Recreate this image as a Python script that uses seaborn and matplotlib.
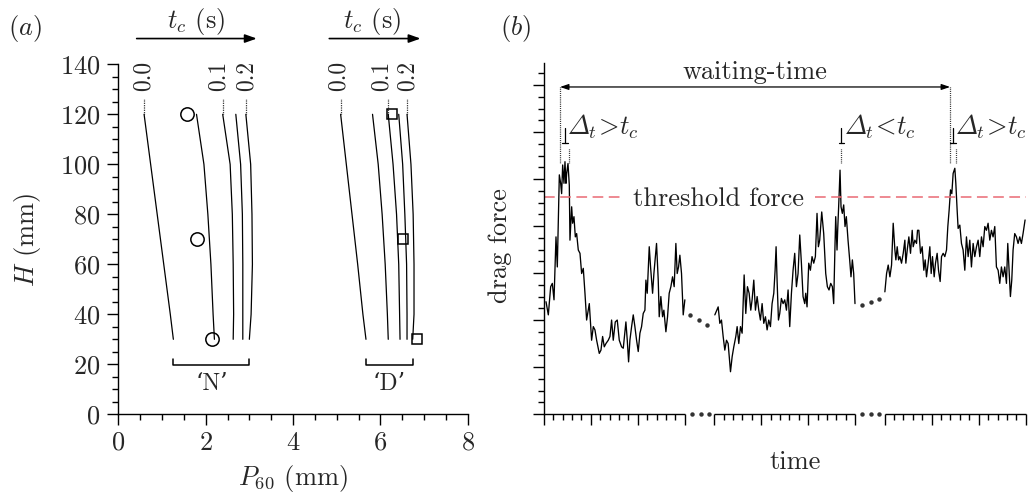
import numpy as np
import pandas as pd
import matplotlib
matplotlib.use('Agg')
import matplotlib.pyplot as plt
import seaborn as sns
from matplotlib.ticker import MultipleLocator, FixedLocator, NullFormatter

sns.set_style('ticks')
plt.rcParams['font.family'] = ['cmr10', 'DejaVu Serif']
plt.rcParams['mathtext.fontset'] = 'cm'
plt.rcParams['axes.formatter.use_mathtext'] = True
plt.rcParams['axes.unicode_minus'] = False

# ---------------- panel (a) data ----------------
H_levels = [120, 100, 80, 60, 40, 30]
curve_tc = ['0.0', '', '0.1', '', '0.2']
P60_N = [
    [0.59, 0.74, 0.89, 1.04, 1.19, 1.26],
    [1.79, 1.96, 2.05, 2.12, 2.17, 2.20],
    [2.39, 2.56, 2.61, 2.63, 2.64, 2.63],
    [2.69, 2.80, 2.84, 2.85, 2.85, 2.85],
    [2.92, 3.03, 3.06, 3.07, 3.04, 3.00],
]
P60_D = [
    [5.09, 5.22, 5.35, 5.48, 5.60, 5.67],
    [5.82, 5.95, 6.04, 6.11, 6.16, 6.18],
    [6.18, 6.29, 6.37, 6.42, 6.44, 6.45],
    [6.42, 6.51, 6.56, 6.60, 6.61, 6.61],
    [6.61, 6.70, 6.75, 6.77, 6.77, 6.74],
]
tc_label_x_N = [0.57, 2.30, 2.93]
tc_label_x_D = [5.04, 6.03, 6.62]
H_markers = [120, 70, 30]
P60_N_markers = [1.565, 1.79, 2.14]
P60_D_markers = [6.27, 6.52, 6.83]
group_names = ['\u2018N\u2019', '\u2018D\u2019']
group_label_x = [2.14, 6.20]

# ---------------- panel (b) data ----------------
seg_start = [0.0, 3.622, 7.245]
seg1_t = [0.049, 0.098, 0.148, 0.183, 0.219, 0.261, 0.289, 0.332, 0.360, 0.381,
          0.403, 0.431, 0.452, 0.473, 0.488, 0.516, 0.544, 0.558, 0.594, 0.615,
          0.643, 0.672, 0.700, 0.735, 0.771, 0.806, 0.841, 0.877, 0.912, 0.969,
          1.018, 1.054, 1.089, 1.125, 1.181, 1.217, 1.252, 1.287, 1.323, 1.372,
          1.408, 1.443, 1.478, 1.521, 1.563, 1.606, 1.655, 1.691, 1.747, 1.776,
          1.804, 1.832, 1.868, 1.903, 1.938, 1.974, 2.009, 2.045, 2.080, 2.115,
          2.151, 2.172, 2.200, 2.243, 2.271, 2.314, 2.342, 2.398, 2.434, 2.455,
          2.490, 2.526, 2.554, 2.597, 2.632, 2.667, 2.703, 2.738, 2.773, 2.809,
          2.837, 2.866, 2.894, 2.929, 2.965, 3.000]
seg1_f = [2.39, 2.11, 2.71, 2.78, 2.43, 3.77, 3.13, 5.09, 4.91, 4.69,
          5.30, 4.91, 5.37, 4.91, 5.12, 5.33, 4.87, 3.70, 4.41, 4.06,
          4.20, 3.77, 3.84, 3.49, 3.42, 2.99, 3.10, 2.57, 2.00, 2.35,
          1.57, 1.86, 1.79, 1.57, 1.29, 1.36, 1.65, 1.43, 1.50, 1.57,
          1.65, 2.00, 1.57, 1.96, 2.00, 1.57, 1.43, 1.40, 1.96, 1.57,
          1.11, 1.57, 1.86, 2.11, 1.86, 1.57, 1.33, 1.72, 1.86, 2.14,
          2.21, 2.85, 2.57, 3.56, 3.13, 2.57, 2.99, 3.63, 2.85, 2.07,
          2.50, 2.07, 2.21, 1.75, 2.07, 2.57, 2.71, 2.92, 2.71, 3.63,
          2.99, 3.13, 3.38, 2.99, 2.11, 2.43]
seg2_t = [0.015, 0.086, 0.121, 0.156, 0.192, 0.227, 0.263, 0.298, 0.348, 0.383,
          0.418, 0.461, 0.489, 0.524, 0.560, 0.595, 0.638, 0.673, 0.708, 0.744,
          0.779, 0.807, 0.843, 0.878, 0.914, 0.949, 0.984, 1.020, 1.055, 1.091,
          1.126, 1.161, 1.197, 1.232, 1.268, 1.296, 1.317, 1.338, 1.367, 1.395,
          1.430, 1.466, 1.501, 1.537, 1.572, 1.607, 1.643, 1.678, 1.713, 1.749,
          1.784, 1.820, 1.855, 1.890, 1.926, 1.947, 1.975, 2.011, 2.046, 2.081,
          2.117, 2.152, 2.187, 2.216, 2.244, 2.287, 2.329, 2.372, 2.407, 2.442,
          2.478, 2.513, 2.541, 2.570, 2.584, 2.612, 2.626, 2.655, 2.676, 2.697,
          2.725, 2.754, 2.782, 2.810, 2.846, 2.881, 2.909, 2.938, 2.966, 2.994]
seg2_f = [2.11, 2.28, 1.93, 2.00, 1.65, 1.36, 1.57, 1.50, 0.90, 1.22,
          1.43, 1.65, 1.86, 1.50, 1.86, 1.72, 2.96, 2.14, 2.71, 2.57,
          2.21, 2.43, 2.85, 2.21, 2.50, 2.21, 2.00, 2.35, 1.93, 2.07,
          1.79, 2.00, 1.86, 2.35, 2.57, 3.06, 3.56, 2.85, 2.00, 2.14,
          2.46, 2.35, 2.43, 2.21, 2.64, 1.86, 2.57, 3.06, 3.42, 2.71,
          2.99, 3.81, 3.21, 2.50, 2.35, 2.57, 2.28, 3.21, 3.06, 3.35,
          3.21, 3.35, 4.27, 3.56, 3.70, 4.30, 3.84, 2.99, 2.71, 2.64,
          2.78, 2.71, 2.35, 3.63, 4.20, 3.49, 3.91, 4.62, 5.19, 4.41,
          4.27, 4.45, 3.99, 4.20, 3.70, 3.28, 2.92, 3.28, 2.99, 2.35]
seg3_t = [0.006, 0.042, 0.077, 0.113, 0.148, 0.183, 0.219, 0.240, 0.268, 0.297,
          0.325, 0.360, 0.396, 0.431, 0.452, 0.481, 0.516, 0.551, 0.587, 0.608,
          0.643, 0.679, 0.700, 0.728, 0.764, 0.799, 0.834, 0.863, 0.891, 0.926,
          0.962, 0.990, 1.018, 1.054, 1.082, 1.117, 1.146, 1.181, 1.210, 1.245,
          1.280, 1.316, 1.344, 1.372, 1.401, 1.429, 1.457, 1.493, 1.514, 1.542,
          1.563, 1.599, 1.634, 1.669, 1.705, 1.740, 1.776, 1.811, 1.846, 1.882,
          1.917, 1.953, 1.988, 2.023, 2.059, 2.094, 2.130, 2.165, 2.200, 2.236,
          2.271, 2.306, 2.342, 2.377, 2.413, 2.448, 2.483, 2.519, 2.554, 2.590,
          2.618, 2.646, 2.674, 2.703, 2.731, 2.766, 2.802, 2.837, 2.873, 2.908,
          2.943, 2.986]
seg3_f = [2.60, 2.99, 3.17, 2.92, 3.17, 4.06, 3.49, 3.28, 3.56, 3.28,
          3.35, 3.21, 3.42, 3.70, 3.21, 3.49, 3.77, 3.42, 3.91, 3.56,
          3.70, 3.63, 3.91, 3.91, 3.42, 3.56, 3.06, 3.28, 2.92, 3.21,
          3.56, 2.99, 3.35, 2.92, 3.21, 3.42, 3.06, 2.82, 3.35, 3.42,
          3.35, 3.49, 3.99, 4.34, 4.77, 4.69, 5.12, 5.23, 4.91, 4.34,
          3.95, 4.02, 3.63, 3.49, 3.06, 3.77, 3.35, 3.70, 3.13, 3.63,
          3.35, 3.56, 3.70, 3.35, 3.77, 3.56, 3.99, 3.91, 4.06, 3.70,
          3.91, 3.77, 3.99, 3.13, 3.06, 2.78, 3.13, 2.92, 3.13, 2.78,
          3.63, 3.06, 2.50, 2.85, 3.49, 3.84, 3.77, 3.63, 3.77, 3.63,
          3.84, 4.13]
gap_dots_t = [[3.106, 3.297, 3.473], [6.764, 6.955, 7.134]]
gap_dots_f = [[2.11, 2.00, 1.89], [2.33, 2.39, 2.44]]
axis_dots_t = [[3.155, 3.333, 3.516], [6.764, 6.949, 7.134]]
threshold = 4.62
threshold_spans = [(0.0, 1.69), (5.76, 10.245)]
# italic capital Delta: glyph 0xA2 of the bundled cmmi10 font
DELTA_IT = r'\mathit{' + '\u00a2' + '}'
event_tick = [0.446, 6.327, 8.701]
event_text = ['$' + DELTA_IT + r'_t\!>\!t_c$', '$' + DELTA_IT + r'_t\!<\!t_c$',
              '$' + DELTA_IT + r'_t\!>\!t_c$']
event_dot_left = [0.346, None, 8.637]
event_dot_right = [0.537, 6.312, 8.769]
wait_start, wait_end = 0.346, 8.637

FS = 19
K = 'black'

fig = plt.figure(figsize=(10.28, 4.95), dpi=100)
axa = fig.add_axes([0.1151, 0.1630, 0.3399, 0.7071])
axb = fig.add_axes([0.5289, 0.1636, 0.4689, 0.7091])

# ================= panel (a) =================
rows = []
for gname, curves in (('N', P60_N), ('D', P60_D)):
    for ci, xs in enumerate(curves):
        for h, p in zip(H_levels, xs):
            rows.append({'curve': f'{gname}{ci}', 'H': h, 'P60': p})
df_a = pd.DataFrame(rows)
sns.lineplot(data=df_a, x='P60', y='H', units='curve', estimator=None, sort=False,
             color=K, lw=0.9, ax=axa, legend=False)
sns.lineplot(x=P60_N_markers, y=H_markers, marker='o', ls='', ms=9.6, mfc='none',
             mec=K, mew=1.1, estimator=None, sort=False, ax=axa, color=K)
sns.lineplot(x=P60_D_markers, y=H_markers, marker='s', ls='', ms=7.2, mfc='none',
             mec=K, mew=1.1, estimator=None, sort=False, ax=axa, color=K)

for curves, labx in ((P60_N, tc_label_x_N), (P60_D, tc_label_x_D)):
    li = 0
    for ci, xs in enumerate(curves):
        if curve_tc[ci]:
            axa.plot([xs[0], xs[0]], [H_levels[0], 126], color=K, lw=0.9,
                     ls=(0, (0.6, 0.8)), clip_on=False)
            axa.text(labx[li], 129.5, curve_tc[ci], rotation=90, ha='center',
                     va='bottom', fontsize=17, clip_on=False)
            li += 1

for gi, curves in enumerate((P60_N, P60_D)):
    lo, hi = curves[0][-1], curves[-1][-1]
    axa.plot([lo, lo, hi, hi], [22.3, 19.7, 19.7, 22.3], color=K, lw=1.1,
             clip_on=False)
    axa.text(group_label_x[gi], 12.0, group_names[gi], ha='center', va='center',
             fontsize=17)

for (x0, x1, xt) in ((0.42, 3.17, 1.79), (4.83, 6.92, 5.80)):
    axa.annotate('', xy=(x1, 150.3), xytext=(x0, 150.3),
                 arrowprops=dict(arrowstyle='-|>,head_length=0.7,head_width=0.25',
                                 color=K, lw=1.2, shrinkA=0, shrinkB=0),
                 annotation_clip=False)
    axa.text(xt, 157.0, r'$t_c$ (s)', ha='center', va='center', fontsize=FS,
             clip_on=False)

axa.set_xlim(0, 8)
axa.set_ylim(0, 140)
axa.xaxis.set_major_locator(MultipleLocator(2))
axa.xaxis.set_minor_locator(MultipleLocator(0.5))
axa.yaxis.set_major_locator(MultipleLocator(20))
axa.yaxis.set_minor_locator(MultipleLocator(5))
axa.tick_params(which='major', direction='out', length=8, width=1.0,
                labelsize=FS, pad=4, color=K)
axa.tick_params(which='minor', direction='out', length=4.3, width=1.0, color=K)
axa.tick_params(axis='y', which='major', pad=5)
for s in ('top', 'right'):
    axa.spines[s].set_visible(False)
for s in ('left', 'bottom'):
    axa.spines[s].set_linewidth(1.0)
    axa.spines[s].set_color(K)
axa.set_xlabel('')
axa.set_ylabel('')
axa.text(-0.261, 0.5, r'$H$ (mm)', rotation=90, ha='center', va='center',
         fontsize=FS, transform=axa.transAxes)
axa.text(0.5, -0.182, r'$P_{60}$ (mm)', ha='center', va='center', fontsize=FS,
         transform=axa.transAxes)
fig.text(0.008, 0.943, r'($a$)', fontsize=FS, va='center', ha='left')
fig.text(0.486, 0.943, r'($b$)', fontsize=FS, va='center', ha='left')

# ================= panel (b) =================
seg_t = [seg1_t, seg2_t, seg3_t]
seg_f = [seg1_f, seg2_f, seg3_f]
df_b = pd.concat([pd.DataFrame({'seg': i, 'time': np.asarray(t) + s0, 'force': f})
                  for i, (s0, t, f) in enumerate(zip(seg_start, seg_t, seg_f))])
sns.lineplot(data=df_b, x='time', y='force', units='seg', estimator=None,
             sort=False, color=K, lw=0.95, ax=axb, legend=False)
for gt, gf in zip(gap_dots_t, gap_dots_f):
    axb.plot(gt, gf, 'o', color='#333333', ms=3.2, mew=0)
for at in axis_dots_t:
    axb.plot(at, [0] * len(at), 'o', color='#333333', ms=3.2, mew=0, clip_on=False)

red = '#ea6a74'
for (x0, x1) in threshold_spans:
    axb.plot([x0, x1], [threshold, threshold], color=red, lw=1.1,
             ls=(0, (7.0, 3.6)), clip_on=False)
axb.text(3.71, threshold, 'threshold force', ha='center', va='center_baseline',
         fontsize=FS)

dot_ls = (0, (0.6, 0.9))
for i in range(3):
    xt = event_tick[i]
    axb.plot([xt, xt], [6.08, 5.76], color=K, lw=0.9)
    axb.plot([xt - 0.06, xt + 0.06], [5.76, 5.76], color=K, lw=0.9)
    axb.plot([event_dot_right[i]] * 2, [5.64, 5.33], color=K, lw=0.9, ls=dot_ls)
    if event_dot_left[i] is not None:
        axb.plot([event_dot_left[i]] * 2, [6.96, 5.35], color=K, lw=0.9, ls=dot_ls)
    axb.text(xt + 0.05, 6.12, event_text[i], ha='left', va='center', fontsize=FS)

axb.annotate('', xy=(wait_end, 6.96), xytext=(wait_start, 6.96),
             arrowprops=dict(arrowstyle='<|-|>,head_length=0.5,head_width=0.17',
                             color=K, lw=0.9, shrinkA=0, shrinkB=0))
axb.text(4.486, 7.27, 'waiting-time', ha='center', va='center', fontsize=FS)

axb.set_xlim(0, seg_start[-1] + 3)
axb.set_ylim(0, 7.47)
major_x = [s0 + k for s0 in seg_start for k in range(4)]
minor_x = [s0 + 0.2 * k for s0 in seg_start for k in range(1, 15) if k % 5]
axb.xaxis.set_major_locator(FixedLocator(major_x))
axb.xaxis.set_minor_locator(FixedLocator(minor_x))
axb.yaxis.set_major_locator(MultipleLocator(1))
axb.yaxis.set_minor_locator(MultipleLocator(0.25))
axb.xaxis.set_major_formatter(NullFormatter())
axb.yaxis.set_major_formatter(NullFormatter())
axb.tick_params(which='major', direction='out', length=8, width=1.0, color=K)
axb.tick_params(which='minor', direction='out', length=4.3, width=1.0, color=K)
for s in ('top', 'right', 'bottom'):
    axb.spines[s].set_visible(False)
axb.spines['left'].set_linewidth(1.0)
axb.spines['left'].set_color(K)
for s0 in seg_start:
    axb.plot([s0, s0 + 3], [0, 0], color=K, lw=1.0, clip_on=False,
             solid_capstyle='butt')
axb.set_xlabel('')
axb.set_ylabel('')
axb.text(-0.0907, 0.481, 'drag force', rotation=90, ha='center', va='center',
         fontsize=FS, transform=axb.transAxes)
axb.text(0.521, -0.137, 'time', ha='center', va='center', fontsize=FS,
         transform=axb.transAxes)

fig.savefig('out.png', dpi=100)
